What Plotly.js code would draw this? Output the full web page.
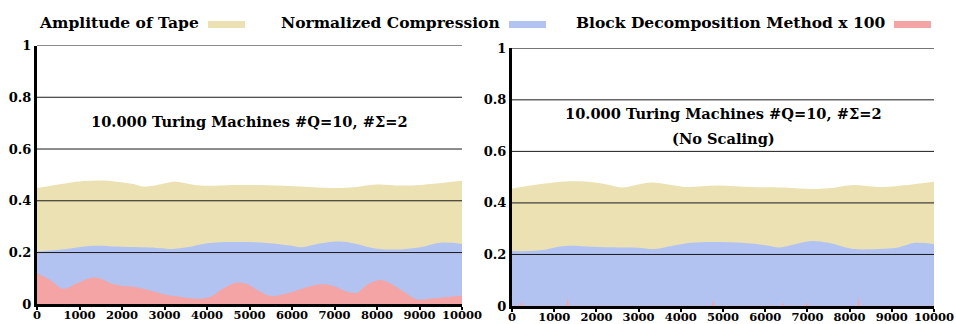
<!DOCTYPE html>
<html>
<head>
<meta charset="utf-8">
<script src="https://cdn.plot.ly/plotly-3.0.1.min.js"></script>
<style>html,body{margin:0;padding:0;background:#fff;}#chart{width:956px;height:324px;}</style>
</head>
<body>
<div id="chart"></div>
<script>
// ---- Data ----
const seriesNames = ["Amplitude of Tape", "Normalized Compression", "Block Decomposition Method x 100"];
const colors = ["#ECE1B2", "#B2C3F2", "#F4A4A4"];

// Left panel (scaled)
const tapeX = [0, 700, 1100, 1500, 1880, 2270, 2500, 2740, 3130, 3370, 3840, 4630, 5410, 6200, 6980, 7370, 8000, 8550, 9020, 10000];
const tapeY = [0.449, 0.468, 0.476, 0.478, 0.474, 0.465, 0.455, 0.458, 0.472, 0.472, 0.459, 0.461, 0.460, 0.455, 0.449, 0.451, 0.463, 0.459, 0.461, 0.477];

const compX = [0, 700, 1330, 1880, 2430, 2820, 3210, 3530, 4000, 4630, 5410, 5960, 6200, 6590, 6980, 7370, 8000, 8550, 9020, 9490, 10000];
const compY = [0.204, 0.214, 0.226, 0.223, 0.220, 0.218, 0.214, 0.220, 0.236, 0.241, 0.237, 0.227, 0.220, 0.233, 0.242, 0.238, 0.215, 0.212, 0.220, 0.238, 0.233];

const bdmX = [0, 310, 620, 940, 1250, 1490, 1800, 2040, 2350, 2670, 2980, 3370, 3760, 4080, 4390, 4710, 4940, 5250, 5490, 5880, 6200, 6670, 6980, 7290, 7530, 7770, 8080, 8310, 8630, 8940, 9330, 10000];
const bdmY = [0.120, 0.094, 0.060, 0.081, 0.102, 0.100, 0.077, 0.071, 0.066, 0.053, 0.039, 0.029, 0.021, 0.029, 0.062, 0.084, 0.078, 0.049, 0.032, 0.042, 0.058, 0.077, 0.071, 0.049, 0.045, 0.076, 0.094, 0.081, 0.049, 0.019, 0.023, 0.034];

// Right panel (no scaling)
const tapeX2 = [0, 780, 1260, 1730, 2200, 2600, 2910, 3310, 3630, 4100, 4890, 5680, 6470, 7100, 7500, 8050, 8680, 9150, 10000];
const tapeY2 = [0.456, 0.475, 0.483, 0.483, 0.473, 0.460, 0.469, 0.479, 0.473, 0.462, 0.468, 0.462, 0.460, 0.454, 0.457, 0.469, 0.462, 0.466, 0.482];

const compX2 = [0, 620, 1260, 1890, 2520, 2990, 3390, 3780, 4250, 4730, 5520, 6080, 6310, 6710, 7100, 7500, 8050, 8680, 9150, 9550, 10000];
const compY2 = [0.213, 0.215, 0.233, 0.230, 0.227, 0.226, 0.221, 0.233, 0.245, 0.248, 0.244, 0.234, 0.227, 0.240, 0.252, 0.245, 0.222, 0.221, 0.227, 0.245, 0.240];

const bdmX2 = [0, 200, 230, 260, 1290, 1320, 1350, 4740, 4770, 4800, 6400, 6430, 6460, 6950, 6980, 7010, 8180, 8210, 8240, 10000];
const bdmY2 = [0.001, 0.001, 0.02, 0.001, 0.001, 0.035, 0.001, 0.001, 0.025, 0.001, 0.001, 0.015, 0.001, 0.001, 0.015, 0.001, 0.001, 0.035, 0.001, 0.001];

const xTicks = [0, 1000, 2000, 3000, 4000, 5000, 6000, 7000, 8000, 9000, 10000];
const xTickText = ["0", "1000", "2000", "3000", "4000", "5000", "6000", "7000", "8000", "9000", "10000"];
const yTicks = [0, 0.2, 0.4, 0.6, 0.8, 1];
const yTickText = ["0", "0.2", "0.4", "0.6", "0.8", "1"];
const gridVals = [0.2, 0.4, 0.6, 0.8, 1];

const panelTitleLeft = "10.000 Turing Machines #Q=10, #Σ=2";
const panelTitleRight = ["10.000 Turing Machines #Q=10, #Σ=2", "(No Scaling)"];

// ---- Build ----
const FONT = "DejaVu Serif";
function area(x, y, c, xa, ya, shape) {
  return {x: x, y: y, xaxis: xa, yaxis: ya, type: "scatter", mode: "lines",
    fill: "tozeroy", fillcolor: c, line: {width: 0, shape: shape || "spline", smoothing: 1, color: c},
    hoverinfo: "skip", showlegend: false};
}
const data = [
  area(tapeX, tapeY, colors[0], "x", "y"),
  area(compX, compY, colors[1], "x", "y"),
  area(bdmX, bdmY, colors[2], "x", "y"),
  area(tapeX2, tapeY2, colors[0], "x2", "y2"),
  area(compX2, compY2, colors[1], "x2", "y2"),
  area(bdmX2, bdmY2, colors[2], "x2", "y2", "linear")
];

function xaxis(dom) {
  return {domain: dom, range: [0, 10000], tickvals: xTicks, ticktext: xTickText,
    showgrid: false, zeroline: false, showline: true, linewidth: 3, linecolor: "#000",
    ticks: "outside", ticklen: 3, tickwidth: 2, tickcolor: "#000", layer: "above traces",
    ticklabelstandoff: -5,
    tickfont: {family: FONT, size: 11.5, color: "#000", weight: "bold"}, fixedrange: true};
}
function yaxis(dom, anchor) {
  return {domain: dom, anchor: anchor, range: [0, 1], tickvals: yTicks, ticktext: yTickText,
    showgrid: false, zeroline: false, showline: true, linewidth: 3, linecolor: "#000",
    ticks: "", layer: "above traces",
    tickfont: {family: FONT, size: 13, color: "#000", weight: "bold"}, fixedrange: true};
}

const shapes = [];
[["x", "y"], ["x2", "y2"]].forEach(function (p) {
  gridVals.forEach(function (v) {
    shapes.push({type: "line", xref: p[0] + " domain", yref: p[1], x0: 0, x1: 1, y0: v, y1: v,
      line: {color: "#1a1a1a", width: 1}, layer: "above"});
  });
});

const W = 956, H = 324;
const legendText = [[201, seriesNames[0]], [502, seriesNames[1]], [887, seriesNames[2]]];
const swatches = [[208, 245], [509, 546], [894, 931]];
const annotations = [];
const titleFont = {family: FONT, size: 14.6, color: "#000", weight: "bold"};
legendText.forEach(function (t, i) {
  annotations.push({xref: "paper", yref: "paper", x: t[0] / W, y: 1 - 23 / H, xanchor: "right", yanchor: "middle",
    text: t[1], showarrow: false, font: {family: FONT, size: 15.5, color: "#000", weight: "bold"}});
  shapes.push({type: "rect", xref: "paper", yref: "paper", x0: swatches[i][0] / W, x1: swatches[i][1] / W,
    y0: 1 - 28 / H, y1: 1 - 21 / H, fillcolor: colors[i], line: {width: 0}});
});
annotations.push({xref: "x", yref: "y", x: 5000, y: 0.706, text: panelTitleLeft, showarrow: false, font: titleFont});
annotations.push({xref: "x2", yref: "y2", x: 5000, y: 0.748, text: panelTitleRight[0], showarrow: false, font: titleFont});
annotations.push({xref: "x2", yref: "y2", x: 5000, y: 0.651, text: panelTitleRight[1], showarrow: false, font: titleFont});

const layout = {
  width: W, height: H, margin: {l: 0, r: 0, t: 0, b: 0},
  paper_bgcolor: "#fff", plot_bgcolor: "#fff",
  font: {family: FONT, color: "#000", weight: "bold"},
  showlegend: false,
  xaxis: xaxis([37 / W, 462 / W]),
  yaxis: yaxis([(H - 304.3) / H, (H - 45.5) / H], "x"),
  xaxis2: Object.assign(xaxis([512 / W, 934 / W]), {anchor: "y2"}),
  yaxis2: yaxis([(H - 306) / H, (H - 48.3) / H], "x2"),
  shapes: shapes, annotations: annotations
};
layout.xaxis.anchor = "y";

Plotly.newPlot("chart", data, layout, {staticPlot: true, displayModeBar: false});
</script>
</body>
</html>
